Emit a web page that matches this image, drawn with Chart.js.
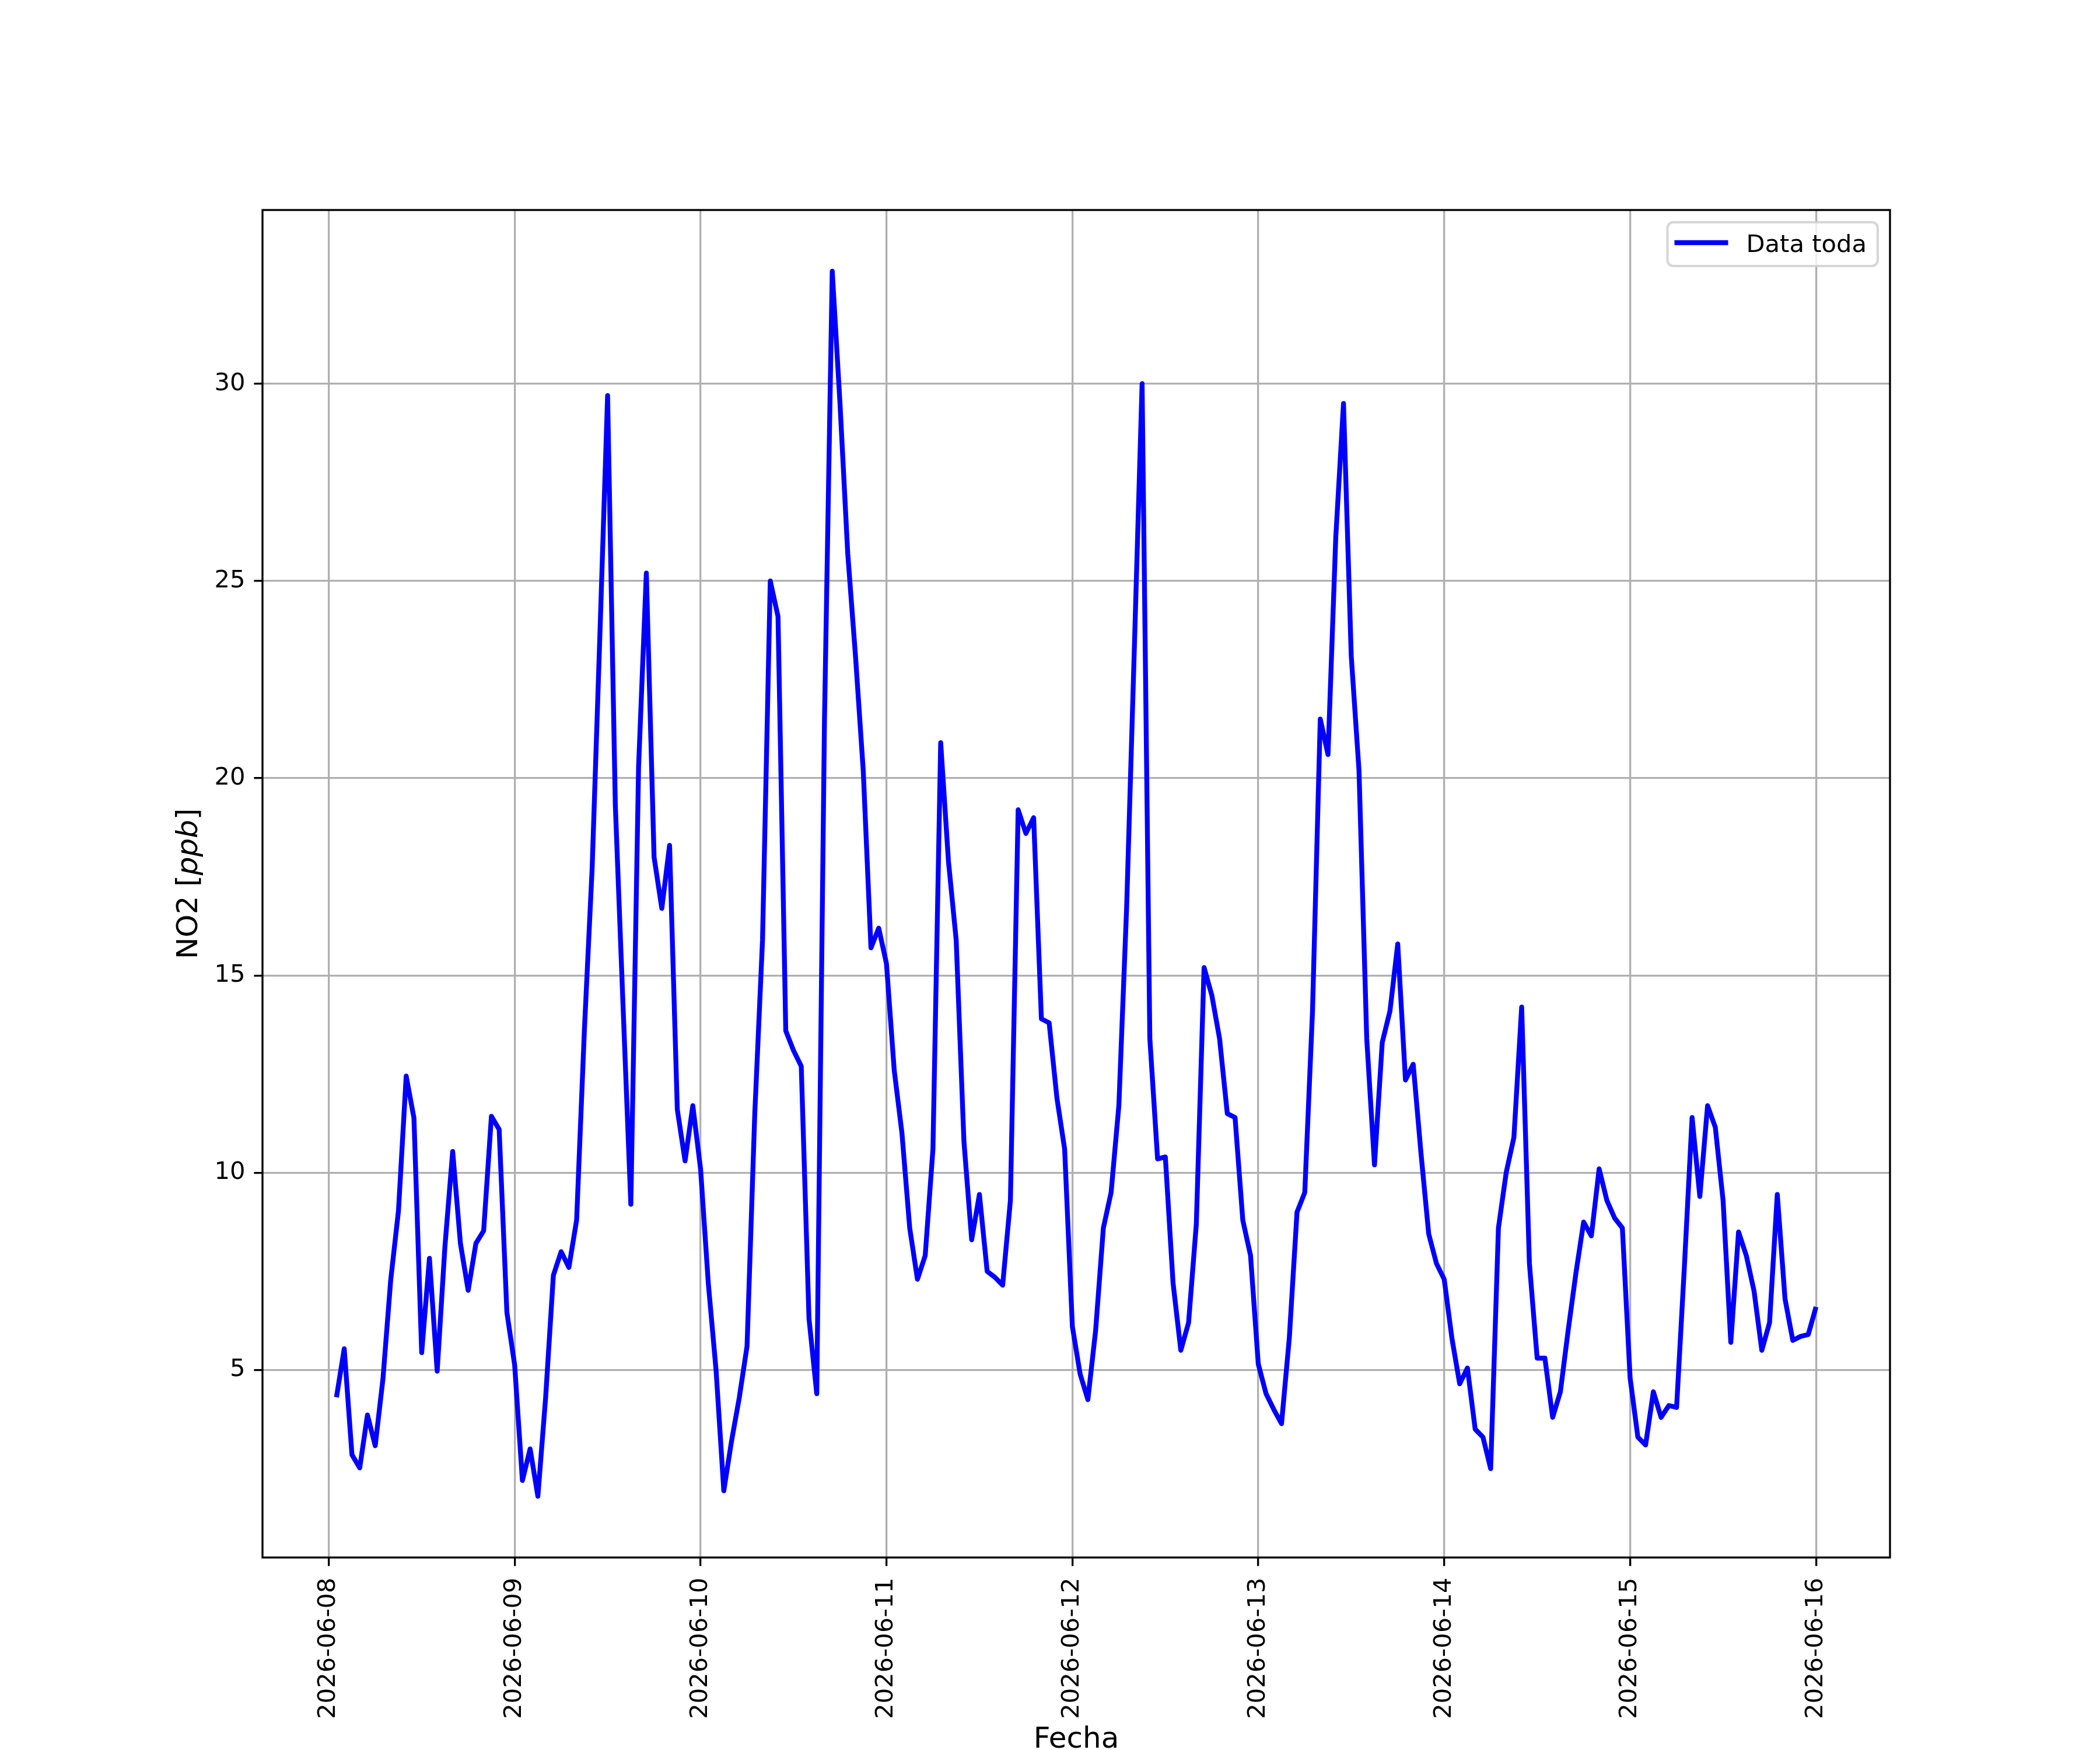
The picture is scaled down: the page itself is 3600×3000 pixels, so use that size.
<!DOCTYPE html>
<html>
<head>
<meta charset="utf-8">
<title>NO2</title>
<script src="https://cdn.jsdelivr.net/npm/chart.js@4.4.0/dist/chart.umd.min.js"></script>
<style>
  html, body { margin: 0; padding: 0; background: #fff; }
  canvas { display: block; background: #fff; }
</style>
</head>
<body>
<canvas id="chart" width="3600" height="3000"></canvas>
<script>
// hourly NO2 [ppb], each list runs from 01:00 of the day to 00:00 of the next one
const no2_0608 = [4.31, 5.54, 2.85, 2.52, 3.86, 3.08, 4.78, 7.28, 9.03, 12.45, 11.39, 5.44,
                  7.83, 4.97, 8.13, 10.54, 8.21, 7.02, 8.21, 8.53, 11.43, 11.10, 6.46, 5.13];
const no2_0609 = [2.2, 3.0, 1.8, 4.3, 7.4, 8.0, 7.6, 8.8, 13.6, 17.7, 23.6, 29.7,
                  19.3, 14.2, 9.2, 20.3, 25.2, 18.0, 16.7, 18.3, 11.6, 10.3, 11.7, 10.1];
const no2_0610 = [7.2, 5.0, 1.94, 3.2, 4.3, 5.6, 11.5, 15.9, 25.0, 24.1, 13.6, 13.1,
                  12.7, 6.3, 4.4, 21.5, 32.85, 29.5, 25.7, 23.1, 20.2, 15.7, 16.2, 15.3];
const no2_0611 = [12.6, 11.0, 8.6, 7.3, 7.9, 10.6, 20.9, 17.9, 15.9, 10.8, 8.3, 9.45,
                  7.5, 7.35, 7.15, 9.3, 19.2, 18.6, 19.0, 13.9, 13.8, 11.9, 10.6, 6.1];
const no2_0612 = [4.9, 4.25, 6.0, 8.6, 9.5, 11.7, 16.7, 23.3, 30.0, 13.4, 10.35, 10.4,
                  7.2, 5.5, 6.2, 8.7, 15.2, 14.5, 13.4, 11.5, 11.4, 8.8, 7.9, 5.15];
const no2_0613 = [4.4, 4.0, 3.64, 5.8, 9.0, 9.5, 14.1, 21.5, 20.6, 26.1, 29.5, 23.1,
                  20.2, 13.4, 10.2, 13.3, 14.1, 15.8, 12.35, 12.75, 10.5, 8.45, 7.7, 7.3];
const no2_0614 = [5.8, 4.65, 5.05, 3.5, 3.3, 2.5, 8.6, 10.0, 10.9, 14.2, 7.7, 5.3,
                  5.3, 3.8, 4.45, 6.0, 7.45, 8.75, 8.4, 10.1, 9.3, 8.85, 8.6, 4.8];
const no2_0615 = [3.3, 3.1, 4.45, 3.8, 4.1, 4.05, 7.6, 11.4, 9.4, 11.7, 11.15, 9.3,
                  5.7, 8.5, 7.9, 7.0, 5.5, 6.2, 9.45, 6.8, 5.75, 5.85, 5.9, 6.6];

const dayLabels = ['2026-06-08', '2026-06-09', '2026-06-10', '2026-06-11', '2026-06-12',
                   '2026-06-13', '2026-06-14', '2026-06-15', '2026-06-16'];
const yTicks = [5, 10, 15, 20, 25, 30];
const seriesLabel = 'Data toda';
const xTitle = 'Fecha';

const FONT = 'DejaVu Sans';
const PT = 300 / 72;            // px per point (figure drawn at 300 dpi)
const LINE_W = 2 * PT;
Chart.defaults.font.family = FONT;

const values = [].concat(no2_0608, no2_0609, no2_0610, no2_0611,
                         no2_0612, no2_0613, no2_0614, no2_0615);
// x = hours since 2026-06-08 00:00, first reading at 01:00
const points = values.map((v, i) => ({ x: i + 1, y: v }));

// matplotlib-like 5% autoscale margins
const xLo = points[0].x, xHi = points[points.length - 1].x;
const yLo = Math.min(...values), yHi = Math.max(...values);
const xPad = (xHi - xLo) * 0.05, yPad = (yHi - yLo) * 0.05;

const framePlugin = {
    id: 'frame',
    afterDatasetsDraw(chart) {
        const { ctx, chartArea: ca } = chart;
        ctx.save();
        ctx.strokeStyle = '#000';
        ctx.lineWidth = 0.8 * PT;
        ctx.strokeRect(ca.left, ca.top, ca.right - ca.left, ca.bottom - ca.top);
        ctx.restore();
    },
    afterDraw(chart) {
        const { ctx, chartArea: ca } = chart;
        ctx.save();
        ctx.fillStyle = '#000';

        // y title: NO2 [ppb] with italic ppb
        const big = 12 * PT;
        const parts = [
            ['NO2 [', `${big}px "${FONT}"`],
            ['ppb', `italic ${big}px "${FONT}"`],
            [']', `${big}px "${FONT}"`],
        ];
        let total = 0;
        parts.forEach(([t, f]) => { ctx.font = f; total += ctx.measureText(t).width; });
        ctx.translate(338, (ca.top + ca.bottom) / 2);
        ctx.rotate(-Math.PI / 2);
        ctx.textBaseline = 'alphabetic';
        ctx.textAlign = 'left';
        let px = -total / 2;
        parts.forEach(([t, f]) => {
            ctx.font = f;
            ctx.fillText(t, px, 0);
            px += ctx.measureText(t).width;
        });
        ctx.setTransform(1, 0, 0, 1, 0, 0);

        // x title
        ctx.font = `${big}px "${FONT}"`;
        ctx.textAlign = 'center';
        ctx.fillText(xTitle, (ca.left + ca.right) / 2, 2996);

        // legend in the upper right corner
        const small = 10 * PT;
        ctx.font = `${small}px "${FONT}"`;
        const tw = ctx.measureText(seriesLabel).width;
        const right = ca.right - 21, top = ca.top + 21;
        const left = right - (135 + tw + 19);
        const h = 75;
        ctx.beginPath();
        ctx.roundRect(left, top, right - left, h, 10);
        ctx.fillStyle = 'rgba(255,255,255,0.8)';
        ctx.fill();
        ctx.strokeStyle = 'rgba(204,204,204,0.8)';
        ctx.lineWidth = 1.0 * PT;
        ctx.stroke();

        ctx.beginPath();
        ctx.moveTo(left + 12, top + 35);
        ctx.lineTo(left + 104, top + 35);
        ctx.strokeStyle = '#0000ff';
        ctx.lineWidth = LINE_W;
        ctx.stroke();

        ctx.fillStyle = '#000';
        ctx.textAlign = 'left';
        ctx.textBaseline = 'alphabetic';
        ctx.fillText(seriesLabel, left + 135, top + 51);
        ctx.restore();
    },
};

new Chart(document.getElementById('chart'), {
    type: 'line',
    data: {
        datasets: [{
            label: seriesLabel,
            data: points,
            borderColor: '#0000ff',
            borderWidth: LINE_W,
            borderJoinStyle: 'round',
            borderCapStyle: 'butt',
            pointRadius: 0,
            tension: 0,
            fill: false,
        }],
    },
    options: {
        responsive: false,
        maintainAspectRatio: false,
        devicePixelRatio: 1,
        animation: false,
        layout: { padding: { top: 360, right: 360, left: 0, bottom: 0 } },
        plugins: {
            legend: { display: false },
            tooltip: { enabled: false },
        },
        scales: {
            x: {
                type: 'linear',
                min: xLo - xPad,
                max: xHi + xPad,
                afterBuildTicks: (scale) => {
                    scale.ticks = dayLabels.map((d, i) => ({ value: i * 24 }));
                },
                afterFit: (scale) => { scale.height = 330; },
                border: { display: false },
                grid: {
                    color: '#b0b0b0',
                    lineWidth: 0.8 * PT,
                    drawTicks: true,
                    tickLength: 3.5 * PT,
                    tickColor: '#000',
                    tickWidth: 0.8 * PT,
                },
                ticks: {
                    autoSkip: false,
                    minRotation: 90,
                    maxRotation: 90,
                    padding: 20,
                    color: '#000',
                    font: { size: 10 * PT },
                    callback: (value, index) => dayLabels[index],
                },
            },
            y: {
                type: 'linear',
                min: yLo - yPad,
                max: yHi + yPad,
                afterBuildTicks: (scale) => {
                    scale.ticks = yTicks.map((v) => ({ value: v }));
                },
                afterFit: (scale) => { scale.width = 450; },
                border: { display: false },
                grid: {
                    color: '#b0b0b0',
                    lineWidth: 0.8 * PT,
                    drawTicks: true,
                    tickLength: 3.5 * PT,
                    tickColor: '#000',
                    tickWidth: 0.8 * PT,
                },
                ticks: {
                    padding: 15,
                    color: '#000',
                    font: { size: 10 * PT },
                    callback: (value) => String(value),
                },
            },
        },
    },
    plugins: [framePlugin],
});
</script>
</body>
</html>
